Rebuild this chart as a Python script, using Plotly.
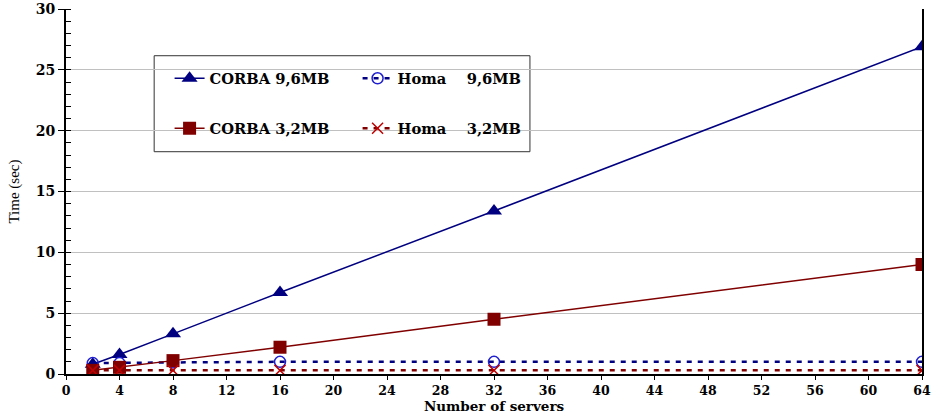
import plotly.graph_objects as go

servers = [2, 4, 8, 16, 32, 64]
corba_96 = [0.8, 1.6, 3.3, 6.7, 13.4, 26.9]
corba_32 = [0.3, 0.55, 1.1, 2.2, 4.5, 9.0]
homa_96 = [0.9, 0.9, 0.95, 1.0, 1.0, 1.0]
homa_32 = [0.3, 0.3, 0.3, 0.3, 0.3, 0.3]

x_ticks = list(range(0, 65, 4))
y_ticks = list(range(0, 31, 5))

NAVY = "#000080"
DRED = "#800000"
SP = "\u00a0" * 4

fig = go.Figure()
fig.add_trace(go.Scatter(
    x=servers, y=corba_96, name="CORBA 9,6MB", mode="lines+markers",
    line=dict(color=NAVY, width=1.5),
    marker=dict(symbol="triangle-up", size=14, color=NAVY),
    legend="legend"))
fig.add_trace(go.Scatter(
    x=servers, y=homa_96, name="Homa" + SP + "9,6MB", mode="lines+markers",
    line=dict(color=NAVY, width=2.5, dash="5px,6px"),
    marker=dict(symbol="circle-open", size=11, color="#1f1fd0", line=dict(width=1.5)),
    legend="legend"))
fig.add_trace(go.Scatter(
    x=servers, y=corba_32, name="CORBA 3,2MB", mode="lines+markers",
    line=dict(color=DRED, width=1.5),
    marker=dict(symbol="square", size=13, color=DRED),
    legend="legend2"))
fig.add_trace(go.Scatter(
    x=servers, y=homa_32, name="Homa" + SP + "3,2MB", mode="lines+markers",
    line=dict(color=DRED, width=2.5, dash="5px,6px"),
    marker=dict(symbol="x-thin-open", size=11, color="#c00000", line=dict(width=1.5, color="#c00000")),
    legend="legend2"))

xtickfont = dict(family="DejaVu Serif", size=12.5, color="black", weight="bold")
ytickfont = dict(family="DejaVu Serif", size=14, color="black", weight="bold")
legfont = dict(family="DejaVu Serif", size=14.7, color="black", weight="bold")

fig.update_layout(
    width=932, height=414,
    margin=dict(l=66, r=10, t=9, b=40),
    paper_bgcolor="white", plot_bgcolor="white",
    xaxis=dict(
        range=[0, 64], tickvals=x_ticks, ticktext=[str(v) for v in x_ticks],
        showgrid=False, zeroline=False, showline=True, linecolor="black", linewidth=2,
        ticks="outside", ticklen=4, tickwidth=1, tickcolor="black",
        tickfont=xtickfont,
        title=dict(text="Number of servers", font=dict(family="DejaVu Serif", size=13.5, color="black", weight="bold"), standoff=1),
        automargin=False,
    ),
    yaxis=dict(
        range=[0, 30], tickvals=y_ticks, ticktext=[str(v) for v in y_ticks],
        showgrid=True, gridcolor="#c0c0c0", gridwidth=1, zeroline=False,
        showline=True, linecolor="black", linewidth=2, mirror=True,
        ticks="outside", ticklen=6, tickwidth=1, tickcolor="black",
        minor=dict(dtick=1, ticks="inside", ticklen=5, tickcolor="black", showgrid=False),
        tickfont=ytickfont,
        title=dict(text="Time (sec)", font=dict(family="Liberation Serif", size=15, color="black"), standoff=12),
        automargin=False,
    ),
    legend=dict(
        x=0.121, y=0.809, xanchor="left", yanchor="middle", orientation="h",
        entrywidth=143, entrywidthmode="pixels", font=legfont,
        bgcolor="rgba(0,0,0,0)", borderwidth=0, itemclick=False,
    ),
    legend2=dict(
        x=0.121, y=0.672, xanchor="left", yanchor="middle", orientation="h",
        entrywidth=143, entrywidthmode="pixels", font=legfont,
        bgcolor="rgba(0,0,0,0)", borderwidth=0, itemclick=False,
    ),
    shapes=[dict(type="rect", xref="paper", yref="paper",
                 x0=0.103, x1=0.542, y0=0.609, y1=0.872,
                 line=dict(color="#333333", width=1), fillcolor="white", layer="below")],
)

fig.write_html("out.html", config={"displayModeBar": False},
               post_script="document.body.style.margin='0';")
